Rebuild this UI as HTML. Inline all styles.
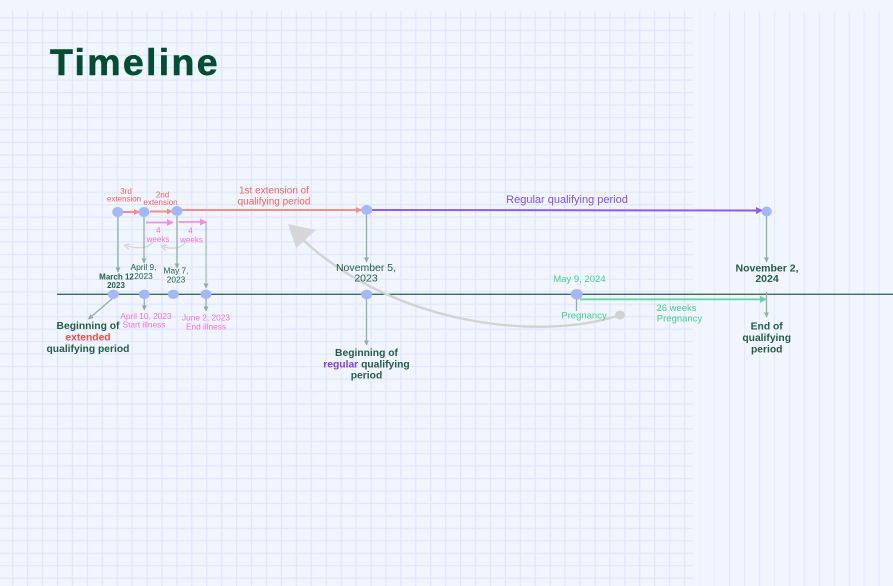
<!DOCTYPE html>
<html>
<head>
<meta charset="utf-8">
<style>
html,body{margin:0;padding:0;background:#f1f5fe;}
svg{display:block;}
text{font-family:"Liberation Sans",sans-serif;}
</style>
</head>
<body>
<svg width="893" height="586" viewBox="0 0 893 586" xmlns="http://www.w3.org/2000/svg">
<defs>
<pattern id="gh" x="0" y="17.3" width="893" height="12.45" patternUnits="userSpaceOnUse">
<rect x="0" y="0" width="893" height="1.2" fill="#dfe7fc"/>
</pattern>
<pattern id="gv" x="12.1" y="0" width="14.93" height="586" patternUnits="userSpaceOnUse">
<rect x="0" y="0" width="1.2" height="586" fill="#dfe7fc"/>
</pattern>
<pattern id="gv2" x="714.1" y="0" width="14.95" height="586" patternUnits="userSpaceOnUse">
<rect x="0" y="0" width="1.2" height="586" fill="#e3eafc"/>
</pattern>
<marker id="ar" markerWidth="6" markerHeight="6" refX="5" refY="3" orient="auto" markerUnits="userSpaceOnUse">
<path d="M0,0 L6,3 L0,6 z" fill="#f78b8b"/>
</marker>
<marker id="ap" markerWidth="7" markerHeight="7" refX="6" refY="3.5" orient="auto" markerUnits="userSpaceOnUse">
<path d="M0,0 L7,3.5 L0,7 z" fill="#f28fe4"/>
</marker>
<marker id="au" markerWidth="7" markerHeight="7" refX="6" refY="3.5" orient="auto" markerUnits="userSpaceOnUse">
<path d="M0,0 L7,3.5 L0,7 z" fill="#8b5cf6"/>
</marker>
<marker id="ag" markerWidth="5" markerHeight="5" refX="4.5" refY="2.5" orient="auto" markerUnits="userSpaceOnUse">
<path d="M0,0 L5,2.5 L0,5 z" fill="#8fada2"/>
</marker>
<marker id="am" markerWidth="7" markerHeight="7" refX="6" refY="3.5" orient="auto" markerUnits="userSpaceOnUse">
<path d="M0,0 L7,3.5 L0,7 z" fill="#5fd9a2"/>
</marker>
<marker id="ax" markerWidth="6" markerHeight="6" refX="3" refY="3" orient="auto" markerUnits="userSpaceOnUse">
<path d="M0,0 L6,3 L0,6" fill="none" stroke="#d3d3d3" stroke-width="1.2"/>
</marker>
</defs>

<rect width="893" height="586" fill="#f1f5fe"/>
<!-- grid -->
<rect x="0" y="11" width="693" height="575" fill="url(#gh)"/>
<rect x="0" y="11" width="693" height="575" fill="url(#gv)"/>
<rect x="700" y="11" width="193" height="575" fill="url(#gv2)"/>

<!-- title -->
<text x="50" y="75" font-size="37.5" font-weight="bold" fill="#034e31" letter-spacing="2.3" stroke="#034e31" stroke-width="0.6">Timeline</text>

<!-- main timeline -->
<line x1="57" y1="294.3" x2="893" y2="294.3" stroke="#3c6b59" stroke-width="1.4"/>

<!-- gray big curve -->
<path d="M620,315 C540,342 392,325 300,237" fill="none" stroke="#d3d3d3" stroke-width="2.4"/>
<polygon points="288,224 316,230 296,248" fill="#d6d6d6"/>
<ellipse cx="620" cy="315" rx="5" ry="4.5" fill="#d2d2d2"/>

<!-- small gray arcs -->
<path d="M153,242 Q146,251 127,246" fill="none" stroke="#d5d5d5" stroke-width="1.2" marker-end="url(#ax)"/>
<path d="M186,242 Q179,251 164,247" fill="none" stroke="#d5d5d5" stroke-width="1.2" marker-end="url(#ax)"/>

<!-- vertical connectors -->
<line x1="118" y1="216" x2="118" y2="272" stroke="#93b0a5" stroke-width="1.3" marker-end="url(#ag)"/>
<line x1="144" y1="216" x2="144" y2="263" stroke="#93b0a5" stroke-width="1.3" marker-end="url(#ag)"/>
<line x1="177" y1="216" x2="177" y2="268" stroke="#93b0a5" stroke-width="1.3" marker-end="url(#ag)"/>
<line x1="206" y1="222" x2="206" y2="288" stroke="#a9bdb5" stroke-width="1.2" marker-end="url(#ag)"/>
<line x1="366.5" y1="215" x2="366.5" y2="262" stroke="#93b0a5" stroke-width="1.3" marker-end="url(#ag)"/>
<line x1="366.5" y1="299" x2="366.5" y2="345" stroke="#93b0a5" stroke-width="1.3" marker-end="url(#ag)"/>
<line x1="766.5" y1="216" x2="766.5" y2="262" stroke="#93b0a5" stroke-width="1.3" marker-end="url(#ag)"/>
<line x1="766.5" y1="292" x2="766.5" y2="317" stroke="#93b0a5" stroke-width="1.3" marker-end="url(#ag)"/>
<line x1="113" y1="298" x2="88.5" y2="319" stroke="#93b0a5" stroke-width="1.3" marker-end="url(#ag)"/>
<line x1="144.3" y1="298" x2="144.3" y2="310" stroke="#93b0a5" stroke-width="1.3" marker-end="url(#ag)"/>
<line x1="206" y1="298" x2="206" y2="311" stroke="#93b0a5" stroke-width="1.3" marker-end="url(#ag)"/>
<line x1="576.5" y1="299" x2="576.5" y2="311" stroke="#93b0a5" stroke-width="1.3"/>

<!-- red extension arrows -->
<line x1="123" y1="212" x2="139" y2="212" stroke="#f78b8b" stroke-width="2" marker-end="url(#ar)"/>
<line x1="150" y1="211.5" x2="172" y2="211.5" stroke="#f78b8b" stroke-width="2" marker-end="url(#ar)"/>
<line x1="182" y1="210" x2="361" y2="210" stroke="#f78b8b" stroke-width="2" marker-end="url(#ar)"/>
<!-- purple regular -->
<line x1="372" y1="210" x2="762" y2="210.5" stroke="#8b5cf6" stroke-width="2" marker-end="url(#au)"/>
<!-- pink 4 weeks arrows -->
<line x1="146" y1="222.5" x2="173" y2="222.5" stroke="#f28fe4" stroke-width="1.8" marker-end="url(#ap)"/>
<line x1="178.5" y1="222" x2="206" y2="222" stroke="#f28fe4" stroke-width="1.8" marker-end="url(#ap)"/>
<!-- green pregnancy -->
<line x1="580" y1="299.3" x2="766" y2="299.3" stroke="#5fd9a2" stroke-width="1.8" marker-end="url(#am)"/>

<!-- dots -->
<g fill="#a3b8f7">
<ellipse cx="117.7" cy="212" rx="5.5" ry="5"/>
<ellipse cx="144" cy="212" rx="5.5" ry="5"/>
<ellipse cx="177" cy="211" rx="5.5" ry="5"/>
<ellipse cx="366.7" cy="210" rx="5.5" ry="5"/>
<ellipse cx="766.7" cy="211.5" rx="5" ry="5"/>
<ellipse cx="113.3" cy="294.3" rx="5.5" ry="4.7"/>
<ellipse cx="144.3" cy="294.3" rx="5.5" ry="4.7"/>
<ellipse cx="173.3" cy="294.3" rx="5.5" ry="4.7"/>
<ellipse cx="206" cy="294.3" rx="5.5" ry="4.7"/>
<ellipse cx="366.7" cy="294.5" rx="5.5" ry="4.7"/>
<ellipse cx="576.7" cy="294.3" rx="6" ry="5.3"/>
</g>

<!-- red labels -->
<g fill="#f26363" text-anchor="middle">
<text x="126" y="194" font-size="8">3rd</text>
<text x="124" y="201.7" font-size="8">extension</text>
<text x="162.5" y="197.3" font-size="8">2nd</text>
<text x="160.5" y="205" font-size="8">extension</text>
<text x="274" y="193.5" font-size="10">1st extension of</text>
<text x="274" y="204.5" font-size="10">qualifying period</text>
</g>
<text x="567" y="203" font-size="11" fill="#7d4fe6" text-anchor="middle">Regular qualifying period</text>

<!-- pink labels -->
<g fill="#ef70d8" text-anchor="middle">
<text x="158.3" y="233" font-size="8">4</text>
<text x="158" y="242" font-size="8">weeks</text>
<text x="190.5" y="233.5" font-size="8">4</text>
<text x="191.5" y="242.5" font-size="8">weeks</text>
<text x="146" y="319" font-size="8.3">April 10, 2023</text>
<text x="144" y="327.7" font-size="8.3">Start illness</text>
<text x="206" y="320.7" font-size="8.3">June 2, 2023</text>
<text x="206" y="329.3" font-size="8.3">End illness</text>
</g>

<!-- dark green labels -->
<g fill="#245c47" text-anchor="middle">
<text x="116.5" y="279.3" font-size="8" font-weight="bold">March 12</text>
<text x="116" y="288" font-size="8" font-weight="bold">2023</text>
<text x="143.5" y="270" font-size="8.3">April 9,</text>
<text x="143.5" y="279" font-size="8.3">2023</text>
<text x="176" y="273.3" font-size="8.3">May 7,</text>
<text x="176" y="282.3" font-size="8.3">2023</text>
<text x="366" y="271" font-size="10.5">November 5,</text>
<text x="366" y="281.5" font-size="10.5">2023</text>
<text x="767" y="271.7" font-size="10.5" font-weight="bold">November 2,</text>
<text x="767" y="282" font-size="10.5" font-weight="bold">2024</text>
<text x="88" y="329" font-size="10.3" font-weight="bold">Beginning of</text>
<text x="88" y="340.5" font-size="10.3" font-weight="bold" fill="#f24b48">extended</text>
<text x="88" y="352" font-size="10.3" font-weight="bold">qualifying period</text>
<text x="366.5" y="356" font-size="10.3" font-weight="bold">Beginning of</text>
<text x="366.5" y="367.3" font-size="10.3" font-weight="bold"><tspan fill="#7a3fe8">regular</tspan> qualifying</text>
<text x="366.5" y="378.5" font-size="10.3" font-weight="bold">period</text>
<text x="766.7" y="329.5" font-size="10.3" font-weight="bold">End of</text>
<text x="766.7" y="341" font-size="10.3" font-weight="bold">qualifying</text>
<text x="766.7" y="352.5" font-size="10.3" font-weight="bold">period</text>
</g>

<!-- mint labels -->
<g fill="#43cf8e" text-anchor="middle">
<text x="579.5" y="282" font-size="9.5">May 9, 2024</text>
<text x="584" y="318.5" font-size="9.5">Pregnancy</text>
<text x="676.5" y="311" font-size="9.5">26 weeks</text>
<text x="679.5" y="321.5" font-size="9.5">Pregnancy</text>
</g>
</svg>
</body>
</html>
